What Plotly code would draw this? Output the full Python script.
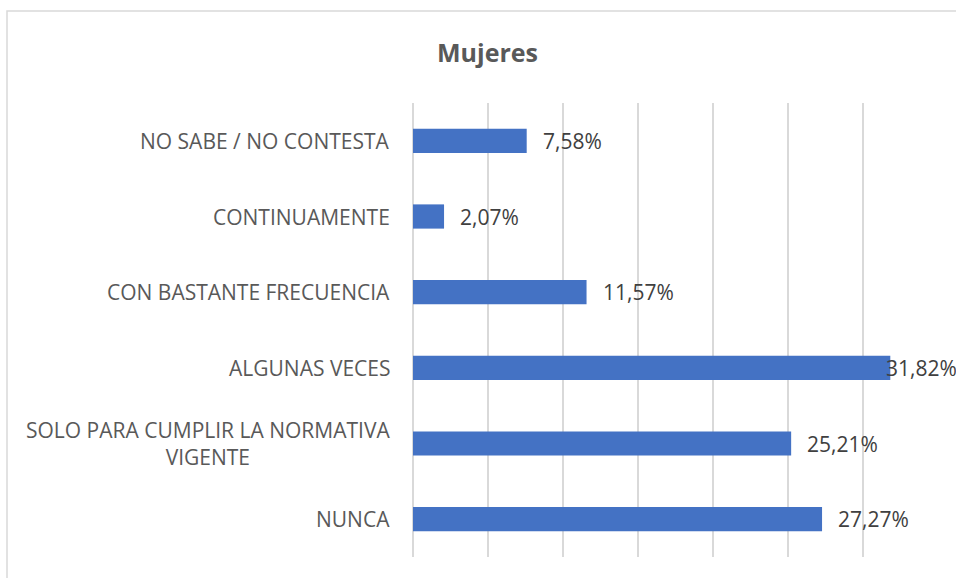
import plotly.graph_objects as go

categories = ["NUNCA", "SOLO PARA CUMPLIR LA NORMATIVA<br>VIGENTE", "ALGUNAS VECES",
              "CON BASTANTE FRECUENCIA", "CONTINUAMENTE", "NO SABE / NO CONTESTA"]
values = [27.27, 25.21, 31.82, 11.57, 2.07, 7.58]
title_text = "Mujeres"

FONT = "Open Sans, sans-serif"
GREY = "#595959"

labels = [f"{v:.2f}".replace(".", ",") + "%" for v in values]

# body margin is removed below, so figure pixels = screen pixels
X0S, X1S, Y0S, Y1S = 413, 938, 103, 557
L, R, T, B = X0S, 956 - X1S, Y0S, 578 - Y1S
PW, PH = X1S - X0S, Y1S - Y0S

fig = go.Figure()
fig.add_trace(go.Bar(
    x=values, y=categories, orientation="h",
    marker=dict(color="#4472C4", line=dict(width=0)),
    width=0.32, hoverinfo="skip",
))

annotations = []
for c, v, lab in zip(categories, values, labels):
    annotations.append(dict(x=v, y=c, xref="x", yref="y", text=lab, showarrow=False,
                            xanchor="left", xshift=(14 if v < 30 else -6),
                            font=dict(family=FONT, size=21, color="#404040")))
    annotations.append(dict(x=0, y=c, xref="paper", yref="y", text=c, showarrow=False,
                            xanchor="right", xshift=-21, align="center",
                            font=dict(family=FONT, size=21, color=GREY)))
annotations.append(dict(x=(487 - X0S) / PW, y=1.0, xref="paper", yref="paper",
                        text="<b>" + title_text + "</b>",
                        showarrow=False, xanchor="center", yanchor="middle",
                        yshift=Y0S - 52,
                        font=dict(family=FONT, size=25, color=GREY)))

fig.update_layout(
    width=956, height=578,
    margin=dict(l=L, r=R, t=T, b=B),
    paper_bgcolor="white", plot_bgcolor="white",
    showlegend=False,
    annotations=annotations,
    xaxis=dict(range=[0, 35], dtick=5, tick0=0, showticklabels=False, showgrid=True,
               gridcolor="#d9d9d9", gridwidth=1.5, zeroline=True, zerolinecolor="#d9d9d9",
               zerolinewidth=1.5, showline=False, fixedrange=True),
    yaxis=dict(showticklabels=False, showgrid=False, showline=False, ticks="",
               range=[-0.5, 5.5], fixedrange=True),
    shapes=[dict(type="rect", xref="paper", yref="paper",
                 x0=(7 - X0S) / PW, x1=(975 - X0S) / PW,
                 y0=(Y1S - 600) / PH, y1=(Y1S - 11) / PH,
                 line=dict(color="#d9d9d9", width=1.5), fillcolor="rgba(0,0,0,0)", layer="below")],
)

fig.write_html("out.html", config={"displayModeBar": False},
               post_script="document.body.style.margin='0';document.body.style.overflow='hidden';")
